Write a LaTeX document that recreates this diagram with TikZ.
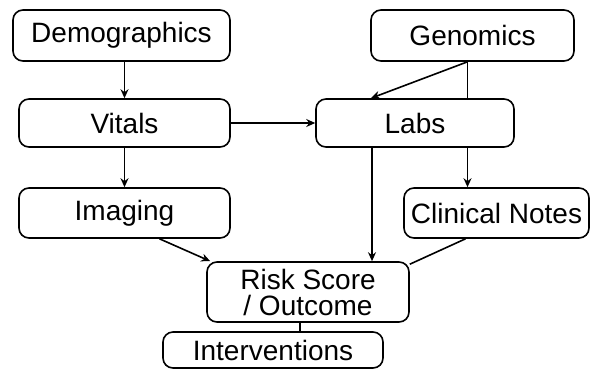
\documentclass[tikz,border=0pt]{standalone}
\usepackage{fontspec}
\setmainfont{Liberation Sans}
\usetikzlibrary{arrows.meta,backgrounds}

\begin{document}
\begin{tikzpicture}[
    x=0.5pt, y=-0.5pt,
    every node/.style={font=\fontsize{14}{13}\selectfont},
    source/.style={draw, line width=0.8pt, fill=white, rounded corners=5pt, inner sep=0pt, align=center},
    flow/.style={line width=0.8pt, -{Stealth[length=4.5pt, width=4pt]}},
    plain/.style={line width=0.8pt},
]
\useasboundingbox (0,0) rectangle (597,370);

% Data sources
\node[source, minimum width=108.5pt, minimum height=25.5pt] (demo)     at (121.5, 35.5) {Demographics};
\node[source, minimum width=101.5pt, minimum height=25.5pt] (genomics) at (472.5, 35.5) {Genomics};
\node[source, minimum width=105.5pt, minimum height=24pt]   (vitals)   at (124.5, 123)  {Vitals};
\node[source, minimum width=99pt,    minimum height=24pt]   (labs)     at (415, 123)    {Labs};
\node[source, minimum width=105.5pt, minimum height=25pt]   (imaging)  at (124.5, 213)  {Imaging};
\node[source, minimum width=92.5pt,  minimum height=25pt]   (notes)    at (496.5, 213)  {Clinical Notes};

% Outcome and interventions
\node[source, minimum width=101pt, minimum height=30pt] (risk)  at (308, 292) {Risk Score\\/ Outcome};
\node[source, minimum width=110pt, minimum height=18pt] (interv) at (273, 350) {Interventions};

% Connectors
\draw[flow] (vitals.north |- demo.south) -- (vitals.north);
\draw[flow] (vitals) -- (imaging);
\draw[flow] (vitals.east) -- (labs.west);
\draw[flow] ([xshift=-2.5pt]genomics.south) -- ([xshift=-22pt]labs.north);
\begin{scope}[on background layer]
\draw[flow] ([xshift=-2.5pt]genomics.south) -- ([xshift=-2.5pt]genomics.south |- notes.north);
\end{scope}
\draw[flow] ([xshift=-21.5pt]labs.south) -- ([xshift=-21.5pt]labs.south |- risk.north);
\draw[flow] ([xshift=17.5pt]imaging.south) -- ([xshift=2pt]risk.north west);
\draw[plain] ([xshift=-15.5pt]notes.south) -- ([yshift=-1.5pt]risk.north east);
\draw[plain] ([xshift=-4pt]risk.south) -- ([xshift=-4pt]risk.south |- interv.north);

\end{tikzpicture}
\end{document}
